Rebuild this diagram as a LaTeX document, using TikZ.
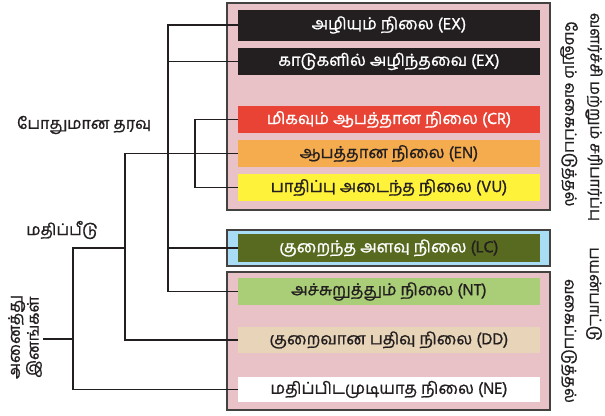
\documentclass[tikz,border=0pt]{standalone}
\usepackage{fontspec}
\setmainfont[Script=Tamil, FakeBold=1]{Hind Madurai}
\usepackage{tikz}
\definecolor{inkdark}{RGB}{35, 31, 32}
\definecolor{grouppink}{RGB}{232, 194, 198}
\definecolor{groupblue}{RGB}{168, 221, 245}
\definecolor{crred}{RGB}{232, 67, 52}
\definecolor{enorange}{RGB}{245, 172, 78}
\definecolor{vuyellow}{RGB}{255, 242, 58}
\definecolor{lcolive}{RGB}{87, 106, 31}
\definecolor{ntgreen}{RGB}{170, 205, 120}
\definecolor{ddbeige}{RGB}{232, 212, 184}

\begin{document}
\begin{tikzpicture}[
    x=1pt, y=-1pt,
    group/.style={draw=inkdark!85, line width=1.2pt, minimum width=323pt},
    bar/.style={minimum width=302pt, minimum height=27pt, inner sep=0pt,
                text=inkdark, font=\fontsize{16.5}{18}\selectfont},
    lbl/.style={text=inkdark, font=\fontsize{16}{17}\selectfont, inner sep=1pt},
    side/.style={text=inkdark, font=\fontsize{15.5}{17}\selectfont, rotate=-90, inner sep=1pt},
    link/.style={draw=inkdark, line width=1.8pt}
]
    \useasboundingbox (0,0) rectangle (605,415);

    % Group boxes
    \node[group, fill=grouppink, minimum height=207pt] (upper) at (388.5,106.5) {};
    \node[group, fill=groupblue, minimum height=36pt] (middle) at (388.5,248) {};
    \node[group, fill=grouppink, minimum height=138pt] (lower) at (388.5,341) {};

    % Category bars
    \node[bar, fill=inkdark, text=white, minimum height=31pt] (ex) at (389,25) {அழியும் நிலை (EX)};
    \node[bar, fill=inkdark, text=white] (ew) at (389,61.5) {காடுகளில் அழிந்தவை (EX)};
    \node[bar, fill=crred, text=white] (cr) at (389,119.5) {மிகவும் ஆபத்தான நிலை (CR)};
    \node[bar, fill=enorange] (en) at (389,153.5) {ஆபத்தான நிலை (EN)};
    \node[bar, fill=vuyellow] (vu) at (389,187.5) {பாதிப்பு அடைந்த நிலை (VU)};
    \node[bar, fill=lcolive, text=white, minimum height=28pt] (lc) at (389,248) {குறைந்த அளவு நிலை {\color{inkdark}(LC)}};
    \node[bar, fill=ntgreen] (nt) at (389,291.5) {அச்சுறுத்தும் நிலை (NT)};
    \node[bar, fill=ddbeige, minimum height=26pt] (dd) at (389,340) {குறைவான பதிவு நிலை (DD)};
    \node[bar, fill=white, minimum height=25pt] (ne) at (389,389.5) {மதிப்பிடமுடியாத நிலை (NE)};

    % Tree labels
    \node[lbl] (adequate) at (84,125) {போதுமான தரவு};
    \node[lbl] (evaluated) at (62,230) {மதிப்பீடு};
    \node[lbl, rotate=90, align=center, font=\fontsize{16}{17}\selectfont] (all) at (25,337) {அனைத்து\\இனங்கள்};

    % Side labels
    \node[side] (growth) at (594,117) {வளர்ச்சி மற்றும் சரிபார்ப்பு};
    \node[side] (further) at (569,114) {மேலும் வகைப்படுத்தல்};
    \node[side] (usage) at (594,294) {பயன்பாட்டு};
    \node[side] (classing) at (569,341) {வகைப்படுத்தல்};

    % Junctions
    \coordinate (root) at (73,339);
    \coordinate (eval) at (125,248);
    \coordinate (adeq) at (168,153.5);
    \coordinate (threat) at (195,153.5);

    % Connectors
    \draw[link] (all.south |- root) -- (root);
    \draw[link] (eval) -- (eval -| root) |- (ne.west);
    \draw[link] (en.west) -| (eval) |- (dd.west);
    \draw[link] (ex.west) -| (adeq) |- (nt.west);
    \draw[link] (ew.west) -- (ew.west -| adeq);
    \draw[link] (lc.west) -- (lc.west -| adeq);
    \draw[link] (cr.west) -| (threat) |- (vu.west);
\end{tikzpicture}
\end{document}
